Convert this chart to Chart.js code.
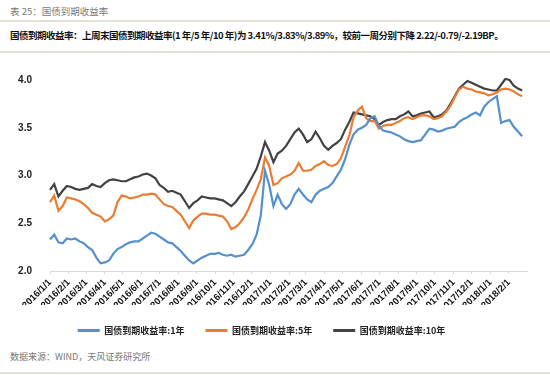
<!doctype html>
<html lang="zh">
  <head>
    <meta charset="UTF-8" />
    <title>国债到期收益率</title>
    <script src="https://cdn.jsdelivr.net/npm/chart.js"></script>
    <style>
      body {
        margin: 0;
        width: 550px;
        height: 375px;
        background: #ffffff;
        position: relative;
        overflow: hidden;
        font-family: "Noto Sans CJK SC", sans-serif;
      }

      .caption {
        position: absolute;
        left: 10px;
        top: 4px;
        font-size: 9.5px;
        color: #7a7a7a;
      }

      .rule {
        position: absolute;
        left: 0;
        width: 550px;
        height: 2px;
        background: #e4e1d4;
      }

      .summary {
        position: absolute;
        left: 10px;
        top: 28px;
        font-size: 9.5px;
        letter-spacing: -0.5px;
        font-weight: bold;
        color: #111;
        white-space: nowrap;
      }

      .source {
        position: absolute;
        left: 10px;
        top: 350px;
        font-size: 9px;
        color: #777;
      }

      /* legend is centred on this box, so it starts a bit left of the page */
      .chart-box {
        position: absolute;
        left: -4px;
        top: 58px;
        width: 543px;
        height: 287px;
      }
    </style>
  </head>
  <body>
    <div class="caption">表 25：国债到期收益率</div>
    <div class="rule" style="top: 20px"></div>
    <div class="summary">国债到期收益率：上周末国债到期收益率(1 年/5 年/10 年)为 3.41%/3.83%/3.89%，较前一周分别下降 2.22/-0.79/-2.19BP。</div>
    <div class="rule" style="top: 51px"></div>
    <div class="chart-box"><canvas id="yieldChart"></canvas></div>
    <div class="source">数据来源：WIND，天风证券研究所</div>
    <div class="rule" style="top: 372px"></div>

    <script>
      // weekly readings, first point 2016/1/1, one week apart
      const startDate = "2016/1/1";
      const stepDays = 7;

      const seriesNames = ["国债到期收益率:1年", "国债到期收益率:5年", "国债到期收益率:10年"];
      const seriesColors = ["#5690cc", "#ea7d33", "#424242"];

      const yield1y = [
        2.33, 2.38, 2.30, 2.29, 2.34, 2.33, 2.34, 2.31, 2.29, 2.25,
        2.22, 2.14, 2.08, 2.09, 2.11, 2.18, 2.23, 2.25, 2.28, 2.30,
        2.31, 2.31, 2.34, 2.37, 2.40, 2.39, 2.36, 2.33, 2.30, 2.29,
        2.25, 2.21, 2.16, 2.11, 2.08, 2.11, 2.14, 2.16, 2.18, 2.18,
        2.19, 2.17, 2.16, 2.17, 2.15, 2.16, 2.17, 2.22, 2.28, 2.38,
        2.58, 3.05, 2.90, 2.68, 2.80, 2.70, 2.65, 2.70, 2.80, 2.86,
        2.80, 2.75, 2.72, 2.80, 2.84, 2.86, 2.88, 2.92, 2.99, 3.06,
        3.17, 3.32, 3.43, 3.48, 3.50, 3.53, 3.60, 3.62, 3.52, 3.47,
        3.46, 3.45, 3.43, 3.41, 3.38, 3.36, 3.35, 3.36, 3.37, 3.43,
        3.49, 3.48, 3.46, 3.47, 3.49, 3.50, 3.51, 3.56, 3.59, 3.61,
        3.64, 3.66, 3.63, 3.72, 3.77, 3.80, 3.83, 3.55, 3.57, 3.58,
        3.51, 3.46, 3.41
      ];

      const yield5y = [
        2.72, 2.79, 2.63, 2.68, 2.77, 2.76, 2.75, 2.73, 2.70, 2.66,
        2.61, 2.59, 2.57, 2.52, 2.54, 2.58, 2.72, 2.79, 2.78, 2.76,
        2.77, 2.78, 2.80, 2.80, 2.81, 2.80, 2.75, 2.70, 2.68, 2.67,
        2.63, 2.59, 2.52, 2.45, 2.53, 2.57, 2.60, 2.60, 2.59, 2.59,
        2.58, 2.57, 2.52, 2.44, 2.46, 2.50, 2.56, 2.64, 2.75, 2.85,
        2.96, 3.19, 3.10, 2.90, 2.92, 2.97, 2.99, 3.01, 3.05, 3.13,
        3.05, 3.05, 3.06, 3.10, 3.12, 3.15, 3.11, 3.10, 3.12, 3.18,
        3.30, 3.42, 3.61, 3.68, 3.72, 3.60, 3.57, 3.57, 3.49, 3.52,
        3.53, 3.53, 3.55, 3.57, 3.60, 3.61, 3.59, 3.61, 3.63, 3.63,
        3.62, 3.59, 3.60, 3.62, 3.67, 3.73, 3.82, 3.90, 3.93, 3.91,
        3.90, 3.88, 3.87, 3.86, 3.84, 3.85, 3.87, 3.90, 3.91, 3.90,
        3.88, 3.85, 3.83
      ];

      const yield10y = [
        2.85, 2.91, 2.78, 2.84, 2.89, 2.88, 2.86, 2.85, 2.86, 2.87,
        2.91, 2.89, 2.88, 2.92, 2.95, 2.96, 2.95, 2.94, 2.94, 2.96,
        2.98, 2.99, 3.01, 3.02, 3.00, 2.97, 2.90, 2.87, 2.83, 2.84,
        2.82, 2.80, 2.73, 2.66, 2.71, 2.74, 2.78, 2.77, 2.76, 2.76,
        2.75, 2.74, 2.71, 2.68, 2.72, 2.78, 2.83, 2.91, 2.99, 3.07,
        3.20, 3.35, 3.26, 3.14, 3.23, 3.26, 3.31, 3.38, 3.45, 3.49,
        3.43, 3.35, 3.38, 3.46, 3.39, 3.31, 3.27, 3.31, 3.34, 3.38,
        3.48, 3.56, 3.66, 3.65, 3.64, 3.63, 3.62, 3.59, 3.53, 3.56,
        3.58, 3.59, 3.59, 3.62, 3.64, 3.67, 3.62, 3.63, 3.65, 3.66,
        3.67, 3.61, 3.62, 3.64, 3.68, 3.75, 3.83, 3.91, 3.95, 3.99,
        3.97, 3.95, 3.93, 3.91, 3.90, 3.89, 3.89, 3.95, 4.01, 4.00,
        3.94, 3.91, 3.89
      ];

      const monthLabels = [
        "2016/1/1", "2016/2/1", "2016/3/1", "2016/4/1", "2016/5/1", "2016/6/1",
        "2016/7/1", "2016/8/1", "2016/9/1", "2016/10/1", "2016/11/1", "2016/12/1",
        "2017/1/1", "2017/2/1", "2017/3/1", "2017/4/1", "2017/5/1", "2017/6/1",
        "2017/7/1", "2017/8/1", "2017/9/1", "2017/10/1", "2017/11/1", "2017/12/1",
        "2018/1/1", "2018/2/1"
      ];

      const yTicks = [2.0, 2.5, 3.0, 3.5, 4.0];

      // days since start for a "yyyy/m/d" label
      function dayOffset(label) {
        const [y, m, d] = label.split("/").map(Number);
        const [y0, m0, d0] = startDate.split("/").map(Number);
        return Math.round((Date.UTC(y, m - 1, d) - Date.UTC(y0, m0 - 1, d0)) / 86400000);
      }

      const monthDays = monthLabels.map(dayOffset);

      function toPoints(values) {
        return values.map((v, i) => ({ x: i * stepDays, y: v }));
      }

      const allSeries = [yield1y, yield5y, yield10y];

      const ctx = document.getElementById("yieldChart").getContext("2d");
      const yieldChart = new Chart(ctx, {
        type: "line",
        data: {
          datasets: allSeries.map((values, i) => ({
            label: seriesNames[i],
            data: toPoints(values),
            borderColor: seriesColors[i],
            backgroundColor: seriesColors[i],
            borderWidth: 2.2,
            pointRadius: 0,
            tension: 0,
            clip: false
          }))
        },
        options: {
          responsive: true,
          maintainAspectRatio: false,
          animation: false,
          layout: { padding: { left: 0, right: 12, top: 22, bottom: 0 } },
          plugins: {
            tooltip: { enabled: false },
            legend: {
              position: "bottom",
              labels: {
                boxWidth: 22,
                boxHeight: 3,
                padding: 21,
                color: "#222",
                font: { family: "Noto Sans CJK SC", size: 9, weight: "bold" },
                generateLabels: chart =>
                  Chart.defaults.plugins.legend.labels
                    .generateLabels(chart)
                    .map(item => ({ ...item, lineWidth: 0, fillStyle: item.strokeStyle }))
              }
            }
          },
          scales: {
            x: {
              type: "linear",
              min: 0,
              max: 792,
              afterBuildTicks: axis => {
                axis.ticks = monthDays.map(v => ({ value: v }));
              },
              // labels may hang into the legend's empty top padding
              afterFit: axis => {
                axis.height = 34;
              },
              ticks: {
                autoSkip: false,
                minRotation: 45,
                maxRotation: 45,
                color: "#111",
                font: { family: "Liberation Sans", size: 9.5, weight: "bold" },
                callback: value => monthLabels[monthDays.indexOf(value)]
              },
              grid: { drawOnChartArea: false, tickLength: 3, color: "#d9d9d9" },
              border: { color: "#d9d9d9" }
            },
            y: {
              min: 2,
              max: 4,
              afterBuildTicks: axis => {
                axis.ticks = yTicks.map(v => ({ value: v }));
              },
              afterFit: axis => {
                axis.width = 54;
              },
              ticks: {
                color: "#222",
                padding: 10,
                font: { family: "Liberation Sans", size: 10, weight: "bold" },
                callback: value => value.toFixed(1)
              },
              grid: { display: false },
              border: { display: false }
            }
          }
        }
      });
    </script>
  </body>
</html>
